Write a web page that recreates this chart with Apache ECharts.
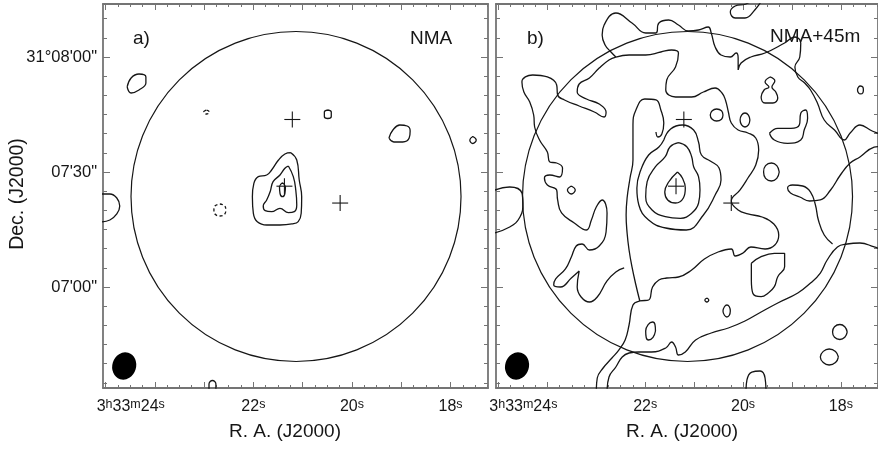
<!DOCTYPE html>
<html><head><meta charset="utf-8">
<script src="https://cdn.jsdelivr.net/npm/echarts@6/dist/echarts.min.js"></script>
<style>html,body{margin:0;padding:0;background:#fff}#c{width:878px;height:451px}</style>
</head><body><div id="c"></div>
<script>
// ---------- axes / ticks ----------
const RA_MIN = 17.241, RA_MAX = 25.05;      // R.A. seconds (3h33m..s)
const DEC_MIN = -26.35, DEC_MAX = 73.83;    // arcsec relative to 31d07'00"
const raTicksMajor = [18,19,20,21,22,23,24,25];
const raTicksMinor = [17.25,17.5,17.75,18,18.25,18.5,18.75,19,19.25,19.5,19.75,20,20.25,20.5,20.75,21,21.25,21.5,21.75,22,22.25,22.5,22.75,23,23.25,23.5,23.75,24,24.25,24.5,24.75,25];
const raTickLabels = [18,20,22,24];
const decTicksMajor = [0,30,60];
const decTicksMinor = [-25,-20,-15,-10,-5,0,5,10,15,20,25,30,35,40,45,50,55,60,65,70];
const decTickLabels = [0,30,60];
const decLabelText = ["07'00\"", "07'30\"", "31°08'00\""];

// ---------- common marks ----------
const pbCircle = [21.135, 23.61, 43.05];          // centre RA, Dec, radius (arcsec)
const beam = [24.62, -20.6, 3.1, 3.6];            // centre RA, Dec, semi-minor, semi-major (arcsec)
const crosses = [[21.21,43.7],[21.37,26.3],[20.24,21.9]];

// ---------- panel a contours (NMA) ----------
const a_outer = [[21.24,35.04],[21.12,33.13],[21.07,27.92],[21.02,23.56],[21.03,19.23],[21.09,17.04],[21.22,16.44],[21.46,16.18],[21.73,16.18],[21.92,17.04],[22.00,19.23],[22.02,23.56],[21.99,27.05],[21.90,28.78],[21.73,29.22],[21.63,30.52],[21.49,33.13],[21.36,34.70],[21.24,35.04]];
const a_mid = [[21.29,31.57],[21.19,28.78],[21.14,25.31],[21.12,21.39],[21.17,19.65],[21.29,19.38],[21.46,20.53],[21.63,19.65],[21.76,19.91],[21.80,21.13],[21.73,22.70],[21.66,24.86],[21.60,27.47],[21.46,29.22],[21.36,30.97],[21.29,31.57]];
const a_inner = [[21.41,27.21],[21.35,26.17],[21.36,24.45],[21.41,23.56],[21.46,24.45],[21.47,26.17],[21.41,27.21]];
const a_small1 = [[20.49,46.18],[20.42,45.66],[20.42,44.48],[20.49,43.96],[20.56,44.48],[20.56,45.66],[20.49,46.18]];
const a_blobR = [[19.25,38.87],[19.17,40.96],[19.03,42.26],[18.88,42.00],[18.82,40.70],[18.84,38.87],[18.97,37.83],[19.15,37.83],[19.25,38.87]];
const a_blobUL = [[24.56,52.18],[24.48,54.53],[24.32,55.57],[24.18,54.79],[24.18,53.22],[24.32,51.40],[24.48,50.61],[24.56,52.18]];
const a_edgeL = [[25.11,24.26],[24.91,24.26],[24.77,23.22],[24.71,21.13],[24.77,19.05],[24.91,17.48],[25.11,16.96]];
const a_arch = [[22.90,-27.4],[22.90,-25.31],[22.83,-24.39],[22.76,-25.31],[22.76,-27.4]];
const a_smallR = [[17.55,39.26],[17.48,38.35],[17.55,37.44],[17.61,38.35],[17.55,39.26]];
const a_neg1 = [[22.68,21.65],[22.58,21.13],[22.56,20.09],[22.58,19.05],[22.68,18.52],[22.78,19.05],[22.80,20.09],[22.78,21.13],[22.68,21.65]];
const a_neg2 = [[22.95,46.18],[22.89,45.66],[22.95,45.13],[23.01,45.66],[22.95,46.18]];

// ---------- panel b contours (NMA+45m) ----------
const b_peak1 = [[21.34,30.00],[21.24,28.44],[21.18,25.83],[21.22,23.22],[21.38,21.91],[21.54,22.70],[21.60,24.78],[21.52,27.39],[21.34,30.00]];
const b_peak2 = [[21.32,37.65],[21.15,36.60],[21.05,33.99],[21.01,31.39],[20.91,28.78],[20.88,25.31],[20.91,21.84],[21.05,19.23],[21.28,17.92],[21.59,18.34],[21.86,20.09],[21.99,23.56],[21.96,27.47],[21.79,31.39],[21.59,33.99],[21.49,36.60],[21.32,37.65]];
const b_peak3 = [[21.62,38.35],[21.48,41.22],[21.24,42.26],[21.01,40.96],[20.91,37.83],[20.85,34.44],[20.67,32.87],[20.49,31.05],[20.45,27.92],[20.57,24.00],[20.81,18.78],[21.16,14.87],[21.58,15.39],[21.93,17.48],[22.13,21.39],[22.17,25.83],[22.09,30.52],[21.93,34.44],[21.72,36.52],[21.62,38.35]];
const b_mid = [[22.60,60.00],[22.33,60.53],[21.99,60.53],[21.68,61.31],[21.46,61.83],[21.32,61.05],[21.38,57.40],[21.56,54.00],[21.58,51.40],[21.38,49.57],[21.05,49.57],[20.81,50.87],[20.57,51.92],[20.43,50.61],[20.36,48.79],[20.30,45.66],[20.24,42.79],[20.10,40.96],[19.90,40.18],[19.74,38.87],[19.68,35.74],[19.74,31.83],[19.90,28.44],[20.06,25.31],[20.24,22.44],[20.10,20.09],[19.90,19.05],[19.61,18.26],[19.37,16.44],[19.27,13.57],[19.35,10.96],[19.55,9.91],[19.84,10.44],[20.00,8.87],[20.16,8.09],[20.24,9.91],[20.51,9.13],[20.79,7.30],[21.05,4.44],[21.32,2.61],[21.56,2.35],[21.72,1.83],[21.85,0.00],[21.93,-3.39],[22.11,-3.65],[22.25,-4.70],[22.33,-9.91],[22.41,-13.83],[22.54,-16.44],[22.68,-18.52],[22.86,-21.13],[22.98,-23.74],[23.00,-27.39]];
const b_left = [[22.11,-3.65],[22.19,0.52],[22.27,5.22],[22.33,9.65],[22.37,14.09],[22.39,18.78],[22.37,23.22],[22.31,28.44],[22.25,33.13],[22.25,38.35],[22.25,42.26],[22.19,46.18],[22.01,49.05],[21.78,48.79],[21.68,46.18],[21.62,42.79],[21.66,39.92],[21.74,39.13],[21.78,40.44]];
const b_topLeft = [[22.60,60.00],[22.74,59.22],[22.94,57.13],[23.14,54.53],[23.35,52.96],[23.39,50.87],[23.20,49.05],[22.94,47.74],[22.80,45.66],[22.84,44.35],[23.04,45.66],[23.35,47.22],[23.65,48.79],[23.79,50.09],[23.81,52.70],[24.00,54.79],[24.30,55.31],[24.52,53.48],[24.48,50.87],[24.36,48.26],[24.28,44.87],[24.26,41.74],[24.16,38.35],[24.00,35.22],[23.95,32.61],[23.81,32.35],[23.69,31.05],[23.75,28.70],[23.95,29.22],[24.06,28.44],[24.00,26.61],[23.81,25.31],[23.79,22.70],[23.71,19.31],[23.45,16.70],[23.20,14.87],[23.10,17.48],[23.00,20.87],[22.88,22.70],[22.78,19.31],[22.80,14.35],[22.94,10.70],[23.14,9.65],[23.29,11.22],[23.41,10.70],[23.51,7.83],[23.63,4.70],[23.83,2.09],[23.87,0.52],[23.73,0.00],[23.51,2.35],[23.35,4.17],[23.39,0.00],[23.31,-2.61],[23.14,-3.91],[22.98,-2.61],[22.78,1.57],[22.60,3.91],[22.43,4.96]];
const b_top = [[22.60,60.00],[22.70,61.31],[22.82,63.14],[22.88,65.74],[22.84,68.35],[22.60,71.48],[22.27,68.88],[21.99,66.27],[21.78,66.27],[21.72,68.88],[21.52,69.66],[21.32,68.35],[21.12,66.79],[20.91,67.05],[20.71,67.83],[20.65,66.27],[20.57,62.61],[20.45,60.53],[20.26,60.00],[20.14,61.05],[20.10,59.74],[20.10,56.61],[20.04,58.44],[19.84,60.00],[19.55,61.05],[19.15,63.66],[18.94,65.22],[18.82,63.66],[18.84,60.00],[18.94,57.40],[18.88,54.79],[18.74,53.22],[18.62,51.40],[18.48,48.00],[18.34,43.57],[18.13,40.96],[17.93,38.35],[17.81,40.18],[17.61,42.26],[17.40,40.96],[17.14,38.87],[17.14,36.79],[17.32,36.52],[17.61,33.92],[17.81,32.35],[18.01,29.22],[18.21,25.31],[18.42,22.70],[18.64,22.44],[18.84,23.48],[19.03,24.52],[19.09,25.83],[18.99,26.61],[18.78,26.35],[18.62,24.78],[18.52,21.39],[18.46,17.48],[18.34,13.57],[18.17,11.22]];
const b_bottom = [[22.78,-27.39],[22.74,-23.48],[22.60,-20.87],[22.47,-18.26],[22.33,-17.22],[22.13,-16.96],[21.87,-16.96],[21.58,-15.91],[21.46,-14.35],[21.38,-15.65],[21.32,-17.74],[21.18,-16.96],[20.97,-13.83],[20.65,-12.00],[20.30,-10.70],[19.96,-8.87],[19.63,-6.52],[19.29,-4.17],[18.88,-1.57],[18.62,1.04],[18.42,3.65],[18.28,7.04],[18.07,10.44],[17.87,11.22],[17.61,11.48],[17.32,10.44],[17.14,9.65]];
const b_edgeL = [[25.17,24.78],[24.77,26.09],[24.52,24.52],[24.50,21.91],[24.56,18.26],[24.77,15.65],[25.17,13.83]];
const b_small1 = [[23.51,26.35],[23.43,25.31],[23.51,24.26],[23.59,25.31],[23.51,26.35]];
const b_fig8 = [[19.45,54.79],[19.35,53.74],[19.41,52.18],[19.33,50.87],[19.29,49.31],[19.39,48.00],[19.55,48.00],[19.63,49.57],[19.57,51.40],[19.47,52.18],[19.55,53.48],[19.45,54.79]];
const b_e1 = [[20.41,44.87],[20.44,43.76],[20.54,43.30],[20.63,43.76],[20.67,44.87],[20.63,45.98],[20.54,46.44],[20.44,45.98],[20.41,44.87]];
const b_e2 = [[19.86,43.57],[19.89,42.29],[19.96,41.74],[20.03,42.29],[20.06,43.57],[20.03,44.85],[19.96,45.40],[19.89,44.85],[19.86,43.57]];
const b_hloop = [[19.46,40.10],[19.29,41.40],[19.02,41.40],[18.85,42.26],[18.82,45.32],[18.72,46.18],[18.68,44.01],[18.75,40.96],[18.82,38.35],[19.09,37.49],[19.36,38.35],[19.46,40.10]];
const b_e3 = [[19.26,30.00],[19.31,28.35],[19.42,27.65],[19.54,28.35],[19.58,30.00],[19.54,31.65],[19.42,32.35],[19.31,31.65],[19.26,30.00]];
const b_e4 = [[17.54,51.40],[17.55,50.67],[17.60,50.36],[17.64,50.67],[17.66,51.40],[17.64,52.13],[17.60,52.44],[17.55,52.13],[17.54,51.40]];
const b_blobBR = [[19.83,6.18],[19.63,7.90],[19.36,8.79],[19.15,8.79],[19.15,5.30],[19.29,2.69],[19.36,0.08],[19.49,-1.64],[19.63,-2.53],[19.80,-1.64],[19.83,1.83],[19.83,6.18]];
const b_small2 = [[20.74,-2.87],[20.70,-3.39],[20.74,-3.91],[20.78,-3.39],[20.74,-2.87]];
const b_e5 = [[20.26,-6.26],[20.28,-7.37],[20.33,-7.83],[20.38,-7.37],[20.41,-6.26],[20.38,-5.15],[20.33,-4.69],[20.28,-5.15],[20.26,-6.26]];
const b_e6 = [[21.79,-11.48],[21.84,-13.13],[21.93,-13.83],[21.98,-13.13],[21.99,-11.48],[21.94,-9.83],[21.85,-9.13],[21.80,-9.83],[21.79,-11.48]];
const b_e7 = [[17.87,-11.74],[17.92,-13.11],[18.02,-13.70],[18.13,-13.11],[18.17,-11.74],[18.13,-10.37],[18.02,-9.78],[17.92,-10.37],[17.87,-11.74]];
const b_e8 = [[18.05,-18.26],[18.11,-19.72],[18.24,-20.35],[18.36,-19.72],[18.42,-18.26],[18.36,-16.80],[18.24,-16.17],[18.11,-16.80],[18.05,-18.26]];
const b_arch = [[19.94,-27.4],[19.92,-24.26],[19.82,-22.18],[19.65,-21.91],[19.55,-23.74],[19.53,-27.4]];
const b_topLoop = [[19.70,75.7],[19.94,73.83],[20.16,73.31],[20.26,71.74],[20.16,70.18],[19.96,70.18],[19.76,72.27],[19.57,75.7]];

const panelA = [a_outer,a_mid,a_inner,a_small1,a_blobR,a_blobUL,a_edgeL,a_arch,a_smallR];
const panelAneg = [a_neg1,a_neg2];
const panelB = [b_peak1,b_peak2,b_peak3,b_mid,b_left,b_topLeft,b_top,b_bottom,b_edgeL,b_small1,b_fig8,b_e1,b_e2,b_hloop,b_e3,b_e4,b_blobBR,b_small2,b_e5,b_e6,b_e7,b_e8,b_arch,b_topLoop];

// ---------- build chart ----------
const FONT = '"Liberation Sans", Arial, Helvetica, sans-serif';
const FRAME = '#747474';
const INK = '#161616';
const grids = [
  {left:103, top:4, width:385, height:384},
  {left:496, top:4, width:385, height:384}
];
function xAx(g, pos, ticks, len, line, labels){
  const ax = {type:'value', gridIndex:g, position:pos, inverse:true, min:RA_MIN, max:RA_MAX,
    axisLine:{show:line, onZero:false, lineStyle:{color:FRAME, width:1.8}},
    axisTick:{show:true, inside:true, length:len, customValues:ticks, lineStyle:{color:FRAME, width:1}},
    axisLabel:{show:false}, splitLine:{show:false}};
  if (labels) {
    ax.axisLabel = {show:true, customValues:raTickLabels, margin:10,
      formatter: v => {
        const s = Math.round(v);
        if (s === 24) return '{n|3}{s|h}{n|33}{s|m}{n|24}{s|s}{g| }';
        return '{n|' + s + '}{s|s}';
      },
      rich:{
        n:{fontSize:16, fontFamily:FONT, color:INK, lineHeight:17},
        s:{fontSize:12.5, fontFamily:FONT, color:INK, lineHeight:12, verticalAlign:'top'},
        g:{width:48, fontSize:12}
      }};
  }
  return ax;
}
function yAx(g, pos, ticks, len, line, labels){
  const ax = {type:'value', gridIndex:g, position:pos, min:DEC_MIN, max:DEC_MAX,
    axisLine:{show:line, onZero:false, lineStyle:{color:FRAME, width:1.8}},
    axisTick:{show:true, inside:true, length:len, customValues:ticks, lineStyle:{color:FRAME, width:1}},
    axisLabel:{show:false}, splitLine:{show:false}};
  if (labels) {
    ax.axisLabel = {show:true, customValues:decTickLabels, margin:6, fontSize:16.5, fontFamily:FONT, color:INK,
      formatter: v => decLabelText[decTickLabels.indexOf(Math.round(v))]};
  }
  return ax;
}
const xAxis = [], yAxis = [];
[0,1].forEach(g => {
  xAxis.push(xAx(g,'bottom',raTicksMajor,6,true,true));
  xAxis.push(xAx(g,'bottom',raTicksMinor,3,false,false));
  xAxis.push(xAx(g,'top',raTicksMajor,6,true,false));
  xAxis.push(xAx(g,'top',raTicksMinor,3,false,false));
  yAxis.push(yAx(g,'left',decTicksMajor,7,true,g===0));
  yAxis.push(yAx(g,'left',decTicksMinor,4,false,false));
  yAxis.push(yAx(g,'right',decTicksMajor,7,true,false));
  yAxis.push(yAx(g,'right',decTicksMinor,4,false,false));
});

const series = [];
function addLines(list, ai, dashed){
  list.forEach(d => series.push({type:'line', xAxisIndex:ai, yAxisIndex:ai, data:d, smooth:0.45,
    symbol:'none', showSymbol:false, silent:true, animation:false, clip:true,
    lineStyle:{color:INK, width:1.3, type: dashed ? [3,2.5] : 'solid'}}));
}
addLines(panelA, 0, false);
addLines(panelAneg, 0, true);
addLines(panelB, 4, false);

[0,4].forEach(ai => {
  series.push({type:'custom', xAxisIndex:ai, yAxisIndex:ai, silent:true, animation:false, data:[pbCircle],
    renderItem:(p, api) => {
      const c = api.coord([api.value(0), api.value(1)]);
      const r = Math.abs(api.size([0, api.value(2)])[1]);
      return {type:'circle', shape:{cx:c[0], cy:c[1], r:r}, style:{fill:null, stroke:INK, lineWidth:1.2}};
    }});
  series.push({type:'custom', xAxisIndex:ai, yAxisIndex:ai, silent:true, animation:false, data:[beam],
    renderItem:(p, api) => {
      const c = api.coord([api.value(0), api.value(1)]);
      const rx = Math.abs(api.size([0, api.value(2)])[1]);
      const ry = Math.abs(api.size([0, api.value(3)])[1]);
      return {type:'circle', x:c[0], y:c[1], scaleX:rx/ry, scaleY:1, rotation:-0.3,
        shape:{cx:0, cy:0, r:ry}, style:{fill:'#000', stroke:null}};
    }});
  series.push({type:'custom', xAxisIndex:ai, yAxisIndex:ai, silent:true, animation:false, data:crosses,
    renderItem:(p, api) => {
      const c = api.coord([api.value(0), api.value(1)]);
      const h = 8;
      return {type:'group', children:[
        {type:'line', shape:{x1:c[0]-h, y1:c[1], x2:c[0]+h, y2:c[1]}, style:{stroke:INK, lineWidth:1.1}},
        {type:'line', shape:{x1:c[0], y1:c[1]-h, x2:c[0], y2:c[1]+h}, style:{stroke:INK, lineWidth:1.1}}
      ]};
    }});
});

const txt = (x, y, text, size) => ({type:'text', x:x, y:y, silent:true,
  style:{text:text, font: size + 'px ' + FONT, fill:INK, align:'left', verticalAlign:'middle'}});
const graphic = [
  txt(133, 39, 'a)', 19),
  txt(410, 39, 'NMA', 19),
  txt(527, 39, 'b)', 19),
  txt(770, 37, 'NMA+45m', 19),
  {type:'text', x:285, y:432, silent:true, style:{text:'R. A. (J2000)', font:'19px ' + FONT, fill:INK, align:'center', verticalAlign:'middle'}},
  {type:'text', x:682, y:432, silent:true, style:{text:'R. A. (J2000)', font:'19px ' + FONT, fill:INK, align:'center', verticalAlign:'middle'}},
  {type:'text', x:18, y:194, rotation:Math.PI/2, silent:true, style:{text:'Dec. (J2000)', font:'19.5px ' + FONT, fill:INK, align:'center', verticalAlign:'middle'}}
];

const chart = echarts.init(document.getElementById('c'), null, {renderer:'canvas'});
chart.setOption({animation:false, backgroundColor:'#fff', grid:grids, xAxis:xAxis, yAxis:yAxis, series:series, graphic:graphic});
</script></body></html>
